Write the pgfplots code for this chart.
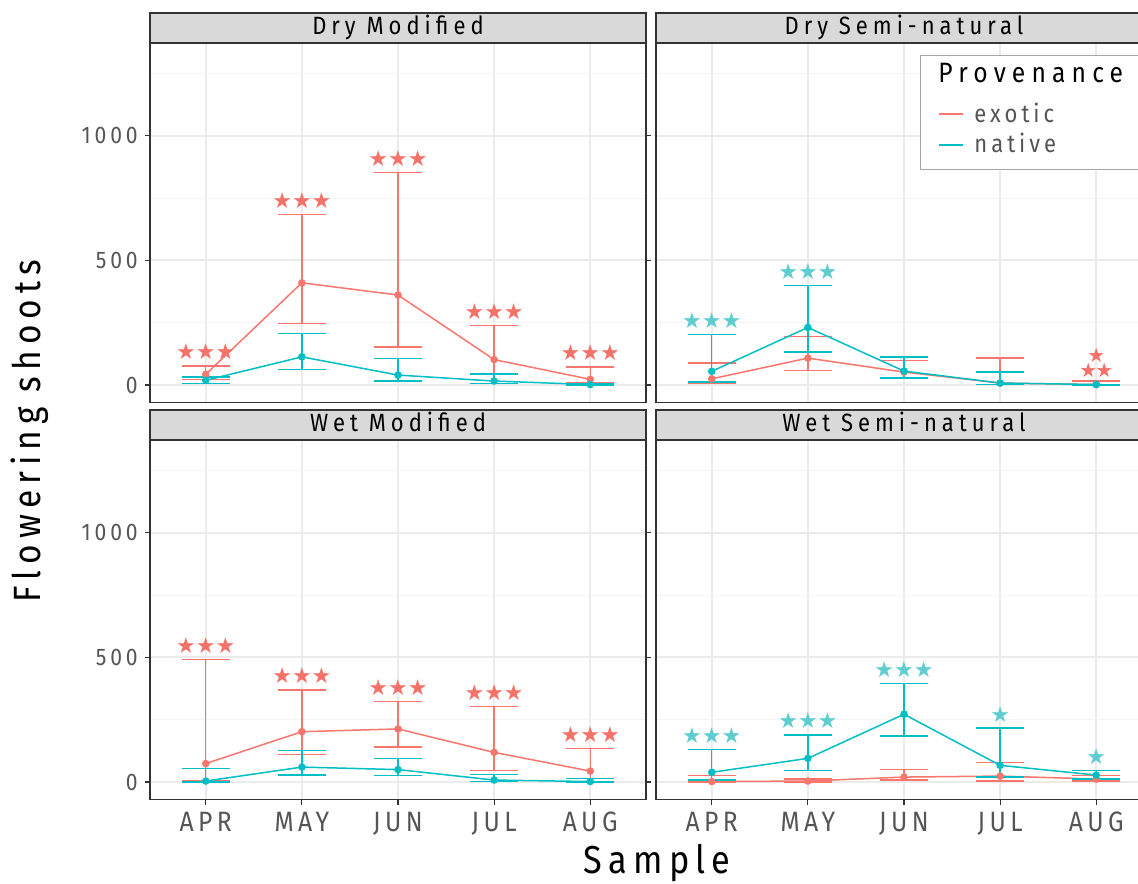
\documentclass[border=0pt]{standalone}
\usepackage{fontspec}
\usepackage{pgfplots}
\pgfplotsset{compat=1.18}
\setmainfont{Fira Sans}[LetterSpace=16, FakeStretch=0.88]
\newfontfamily\starfont{DejaVu Sans}
\definecolor{exo}{HTML}{F8766D}
\definecolor{nat}{HTML}{00BFC4}
\definecolor{natstar}{HTML}{5FCDD0}
\definecolor{exostar}{HTML}{F3736B}
\definecolor{gmaj}{HTML}{EBEBEB}
\definecolor{gmin}{HTML}{F4F4F4}
\definecolor{frame}{HTML}{333333}
\definecolor{stripc}{HTML}{D9D9D9}
\definecolor{ticklab}{HTML}{555555}

\pgfplotsset{
  panel/.style={
    scale only axis, width=248pt, height=179.75pt, anchor=north west,
    xmin=0.42, xmax=5.58, ymin=-70, ymax=1372,
    xtick={1,2,3,4,5}, ytick={0,500,1000}, minor ytick={250,750,1250},
    xmajorgrids=true, ymajorgrids=true, yminorgrids=true,
    major grid style={gmaj, line width=0.9pt},
    minor grid style={gmin, line width=0.45pt},
    axis line style={frame, line width=0.7pt},
    tick align=outside, major tick length=2.6pt, minor tick length=0pt,
    major tick style={frame, line width=0.6pt},
    minor tick style={draw=none},
    /pgf/number format/assume math mode=true,
    /pgf/number format/1000 sep={},
    yticklabel style={font=\fontsize{12}{12}\selectfont, text=ticklab},
    xticklabel style={font=\fontsize{14}{14}\selectfont, text=ticklab},
  },
  notopx/.style={xticklabels={}, xtick style={draw=none}},
  noyl/.style={yticklabels={}, ytick style={draw=none}},
  botx/.style={xticklabels={APR,MAY,JUN,JUL,AUG}},
  exotic/.style={exo, line width=0.75pt, mark=*, mark size=1.5pt,
    mark options={solid, fill=exo, draw=exo},
    error bars/.cd, y dir=both, y explicit,
    error bar style={exo, line width=0.7pt},
    error mark options={exo, rotate=90, mark size=12pt, line width=0.7pt}},
  native/.style={nat, line width=0.75pt, mark=*, mark size=1.5pt,
    mark options={solid, fill=nat, draw=nat},
    error bars/.cd, y dir=both, y explicit,
    error bar style={nat, line width=0.7pt},
    error mark options={nat, rotate=90, mark size=12pt, line width=0.7pt}},
}
\newcommand\sig[4]{\node[text=#1, font=\starfont\fontsize{11}{11}\selectfont, inner sep=0pt, anchor=center, yshift=7pt] at (axis cs:#2,#3) {#4};}
\newcommand\strip[3]{%
  \draw[frame, line width=0.6pt, fill=stripc] (#1,#2) rectangle ++(248pt,15pt);
  \node[anchor=base, font=\addfontfeatures{LetterSpace=20}\fontsize{12.5}{12.5}\selectfont, text=black, inner sep=0pt] at ([xshift=124pt, yshift=4pt]#1,#2) {#3};}

\begin{document}
\begin{tikzpicture}
% Dry Modified
\begin{axis}[panel, notopx, at={(75pt,420pt)}]
\addplot[exotic] coordinates {(1,43) +=(0,34) -=(0,20) (2,410) +=(0,275) -=(0,163) (3,361) +=(0,491) -=(0,209) (4,102) +=(0,137) -=(0,58) (5,23) +=(0,50) -=(0,15)};
\addplot[native] coordinates {(1,19) +=(0,14) -=(0,12) (2,113) +=(0,93) -=(0,50) (3,40) +=(0,66) -=(0,24) (4,16) +=(0,28) -=(0,9) (5,2) +=(0,4) -=(0,2)};
\sig{exostar}{1}{77}{★★★}
\sig{exostar}{2}{685}{★★★}
\sig{exostar}{3}{852}{★★★}
\sig{exostar}{4}{239}{★★★}
\sig{exostar}{5}{73}{★★★}
\end{axis}
% Dry Semi-natural
\begin{axis}[panel, notopx, noyl, at={(328pt,420pt)}]
\addplot[exotic] coordinates {(1,25) +=(0,64) -=(0,17) (2,108) +=(0,86) -=(0,49) (3,52) +=(0,47) -=(0,24) (4,8) +=(0,100) -=(0,6) (5,2) +=(0,15) -=(0,2)};
\addplot[native] coordinates {(1,55) +=(0,147) -=(0,42) (2,231) +=(0,168) -=(0,99) (3,56) +=(0,57) -=(0,28) (4,8) +=(0,45) -=(0,6) (5,2) +=(0,1) -=(0,2)};
\sig{natstar}{1}{202}{★★★}
\sig{natstar}{2}{399}{★★★}
\node[text=exostar, font=\starfont\fontsize{10}{7.4}\selectfont, align=center, inner sep=0pt, anchor=south, yshift=1.6pt] at (axis cs:5,17) {★\\★\kern-1pt★};
\end{axis}
% Wet Modified
\begin{axis}[panel, botx, at={(75pt,221.5pt)}]
\addplot[exotic] coordinates {(1,74) +=(0,418) -=(0,68) (2,202) +=(0,167) -=(0,91) (3,213) +=(0,110) -=(0,72) (4,119) +=(0,183) -=(0,72) (5,44) +=(0,91) -=(0,30)};
\addplot[native] coordinates {(1,4) +=(0,51) -=(0,4) (2,60) +=(0,67) -=(0,32) (3,50) +=(0,45) -=(0,24) (4,8) +=(0,23) -=(0,6) (5,2) +=(0,12) -=(0,2)};
\sig{exostar}{1}{492}{★★★}
\sig{exostar}{2}{369}{★★★}
\sig{exostar}{3}{323}{★★★}
\sig{exostar}{4}{302}{★★★}
\sig{exostar}{5}{135}{★★★}
\end{axis}
% Wet Semi-natural
\begin{axis}[panel, botx, noyl, at={(328pt,221.5pt)}]
\addplot[exotic] coordinates {(1,2) +=(0,24) -=(0,2) (2,4) +=(0,8) -=(0,4) (3,20) +=(0,30) -=(0,11) (4,24) +=(0,54) -=(0,19) (5,12) +=(0,14) -=(0,8)};
\addplot[native] coordinates {(1,39) +=(0,92) -=(0,30) (2,95) +=(0,94) -=(0,48) (3,272) +=(0,123) -=(0,87) (4,67) +=(0,149) -=(0,47) (5,28) +=(0,19) -=(0,15)};
\sig{natstar}{1}{131}{★★★}
\sig{natstar}{2}{189}{★★★}
\sig{natstar}{3}{395}{★★★}
\sig{natstar}{4}{216}{★}
\sig{natstar}{5}{47}{★}
\end{axis}
% strips
\strip{75pt}{420pt}{Dry Modified}
\strip{328pt}{420pt}{Dry Semi-natural}
\strip{75pt}{221.5pt}{Wet Modified}
\strip{328pt}{221.5pt}{Wet Semi-natural}
% legend
\draw[gray!70, line width=0.5pt, fill=white] (460.4pt,413.5pt) rectangle (585pt,356.5pt);
\node[anchor=base west, inner sep=0pt, font=\addfontfeatures{LetterSpace=22}\fontsize{14}{14}\selectfont, text=black] at (469pt,400pt) {Provenance};
\draw[exo, line width=0.75pt] (469.5pt,384.5pt) -- (481.5pt,384.5pt);
\draw[nat, line width=0.75pt] (469.5pt,369pt) -- (481.5pt,369pt);
\node[anchor=west, inner sep=0pt, font=\fontsize{12.5}{12.5}\selectfont, text=ticklab] at (487pt,385pt) {exotic};
\node[anchor=west, inner sep=0pt, font=\fontsize{12.5}{12.5}\selectfont, text=ticklab] at (487pt,370pt) {native};
% axis titles
\node[rotate=90, anchor=center, inner sep=0pt, font=\fontsize{19}{19}\selectfont, text=black] at (15pt,226pt) {Flowering shoots};
\node[anchor=base, inner sep=0pt, font=\fontsize{19.5}{19.5}\selectfont, text=black] at (328.5pt,5pt) {Sample};
\pgfresetboundingbox
\useasboundingbox (0,0) rectangle (569pt,441.5pt);
\end{tikzpicture}
\end{document}
